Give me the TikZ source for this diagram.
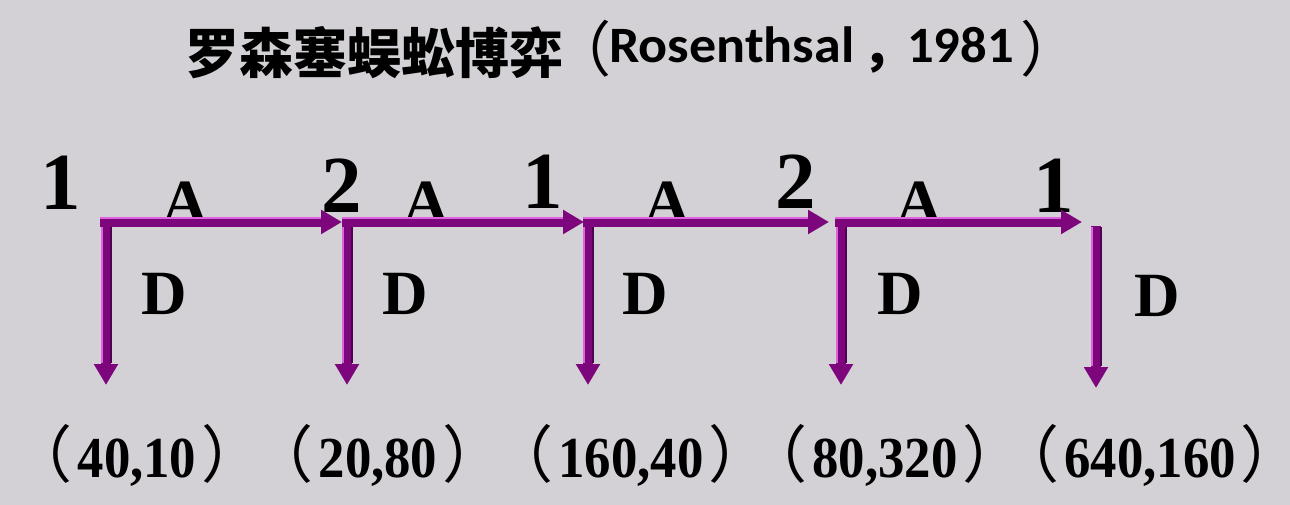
\documentclass[tikz,border=0pt]{standalone}
\usepackage{fontspec}
\usetikzlibrary{arrows.meta}
\setmainfont{Liberation Serif}
\newfontfamily\cjk{Noto Sans CJK SC}
\newfontfamily\lat{Carlito}
\definecolor{bgc}{RGB}{211,209,213}
\definecolor{barc}{RGB}{125,6,125}
\definecolor{hlc}{RGB}{222,100,222}
\definecolor{shc}{RGB}{80,0,80}
\newcommand{\lpar}{\makebox[0.45em][r]{（}}
\newcommand{\rpar}{\makebox[0.45em][l]{）}}
\newcommand{\pay}[1]{{\cjk\fontsize{62}{62}\selectfont\lpar\hspace{5pt}}\scalebox{0.91}[1]{\fontsize{58}{58}\selectfont\bfseries #1}{\cjk\fontsize{62}{62}\selectfont\hspace{5pt}\rpar}}
\tikzset{
  bar/.style={draw=barc, line width=10pt, -{Triangle[length=21pt,width=23pt]}},
  hl/.style={draw=hlc, line width=2.5pt},
  sh/.style={draw=shc, line width=2pt},
  player/.style={anchor=base, inner sep=0pt, font=\fontsize{81}{81}\selectfont\bfseries},
  act/.style={anchor=base, inner sep=0pt, font=\fontsize{63}{63}\selectfont\bfseries},
  payoff/.style={anchor=base, inner sep=0pt},
  tcj/.style={anchor=base west, inner sep=0pt, font=\cjk\bfseries\fontsize{54}{54}\selectfont},
  tpar/.style={anchor=base west, inner sep=0pt, font=\cjk\fontsize{60}{60}\selectfont},
  tcom/.style={anchor=base west, inner sep=0pt, font=\cjk\bfseries\fontsize{50}{50}\selectfont},
  tlat/.style={anchor=base west, inner sep=0pt, font=\lat\bfseries\fontsize{51}{51}\selectfont},
}
\begin{document}
\begin{tikzpicture}[x=1pt,y=-1pt]
\fill[bgc] (0,0) rectangle (1290,505);
\useasboundingbox (0,0) rectangle (1290,505);
% title
\node[tcj] (ti1) at (185,74) {罗森塞蜈蚣博弈};
\node[tpar] (ti2) at (584,72) {\lpar};
\node[tlat] (ti3) at (609,63) {\scalebox{1.06}[1]{Rosenthsal}};
\node[tcom] (ti4) at (862,66) {，};
\node[tlat] (ti5) at (907,63) {\scalebox{1.03}[1]{1981}};
\node[tpar] (ti6) at (1020,72) {\rpar};
% decision points
\coordinate (n1) at (106,222);
\coordinate (n2) at (347,222);
\coordinate (n3) at (588,222);
\coordinate (n4) at (841,222);
\coordinate (n5) at (1096,222);
\coordinate (t1) at (106,385);
\coordinate (t2) at (347,385);
\coordinate (t3) at (588,385);
\coordinate (t4) at (841,385);
\coordinate (t5) at (1096,388);
% player labels
\node[player] (p1) at (61,210) {1};
\node[player] (p2) at (342,213) {2};
\node[player] (p3) at (543,208) {1};
\node[player] (p4) at (796,208) {2};
\node[player] (p5) at (1054,212) {1};
% A labels (partly hidden by bars)
\node[act] (a1) at (185,223) {A};
\node[act] (a2) at (426,223) {A};
\node[act] (a3) at (667,223) {A};
\node[act] (a4) at (919,223) {A};
% vertical (D) arrows
\foreach \i in {1,2,3,4}{
  \draw[bar] ([yshift=5pt]n\i) -- (t\i);
  \draw[hl] ([xshift=-4pt,yshift=4pt]n\i) -- ([xshift=-4pt,yshift=22pt]t\i);
  \draw[sh] ([xshift=4.5pt,yshift=-5pt]n\i) -- ([xshift=4.5pt,yshift=22pt]t\i);
}
\draw[bar] ([yshift=-4pt]n5) -- (t5);
\draw[hl] ([xshift=-4pt,yshift=-5pt]n5) -- ([xshift=-4pt,yshift=22pt]t5);
\draw[sh] ([xshift=4.5pt,yshift=-5pt]n5) -- ([xshift=4.5pt,yshift=22pt]t5);
% horizontal (A) arrows
\draw[bar] ([xshift=-6pt]n1) -- ([xshift=-5pt]n2);
\draw[bar] ([xshift=-5pt]n2) -- ([xshift=-4pt]n3);
\draw[bar] ([xshift=-5pt]n3) -- ([xshift=-12pt]n4);
\draw[bar] ([xshift=-6pt]n4) -- ([xshift=-14pt]n5);
\draw[hl] ([xshift=-6pt,yshift=4pt]n1) -- ([xshift=-26pt,yshift=4pt]n2);
\draw[hl] ([xshift=-5pt,yshift=4pt]n2) -- ([xshift=-25pt,yshift=4pt]n3);
\draw[hl] ([xshift=-5pt,yshift=4pt]n3) -- ([xshift=-33pt,yshift=4pt]n4);
\draw[hl] ([xshift=-6pt,yshift=4pt]n4) -- ([xshift=-35pt,yshift=4pt]n5);
% D labels
\node[act] (d1) at (164,314) {D};
\node[act] (d2) at (405,314) {D};
\node[act] (d3) at (645,314) {D};
\node[act] (d4) at (900,314) {D};
\node[act] (d5) at (1157,316) {D};
% payoffs
\node[payoff] (u1) at (137,477) {\pay{40,10}};
\node[payoff] (u2) at (378,477) {\pay{20,80}};
\node[payoff] (u3) at (631,477) {\pay{160,40}};
\node[payoff] (u4) at (885,477) {\pay{80,320}};
\node[payoff] (u5) at (1150,477) {\pay{640,160}};
\end{tikzpicture}
\end{document}
